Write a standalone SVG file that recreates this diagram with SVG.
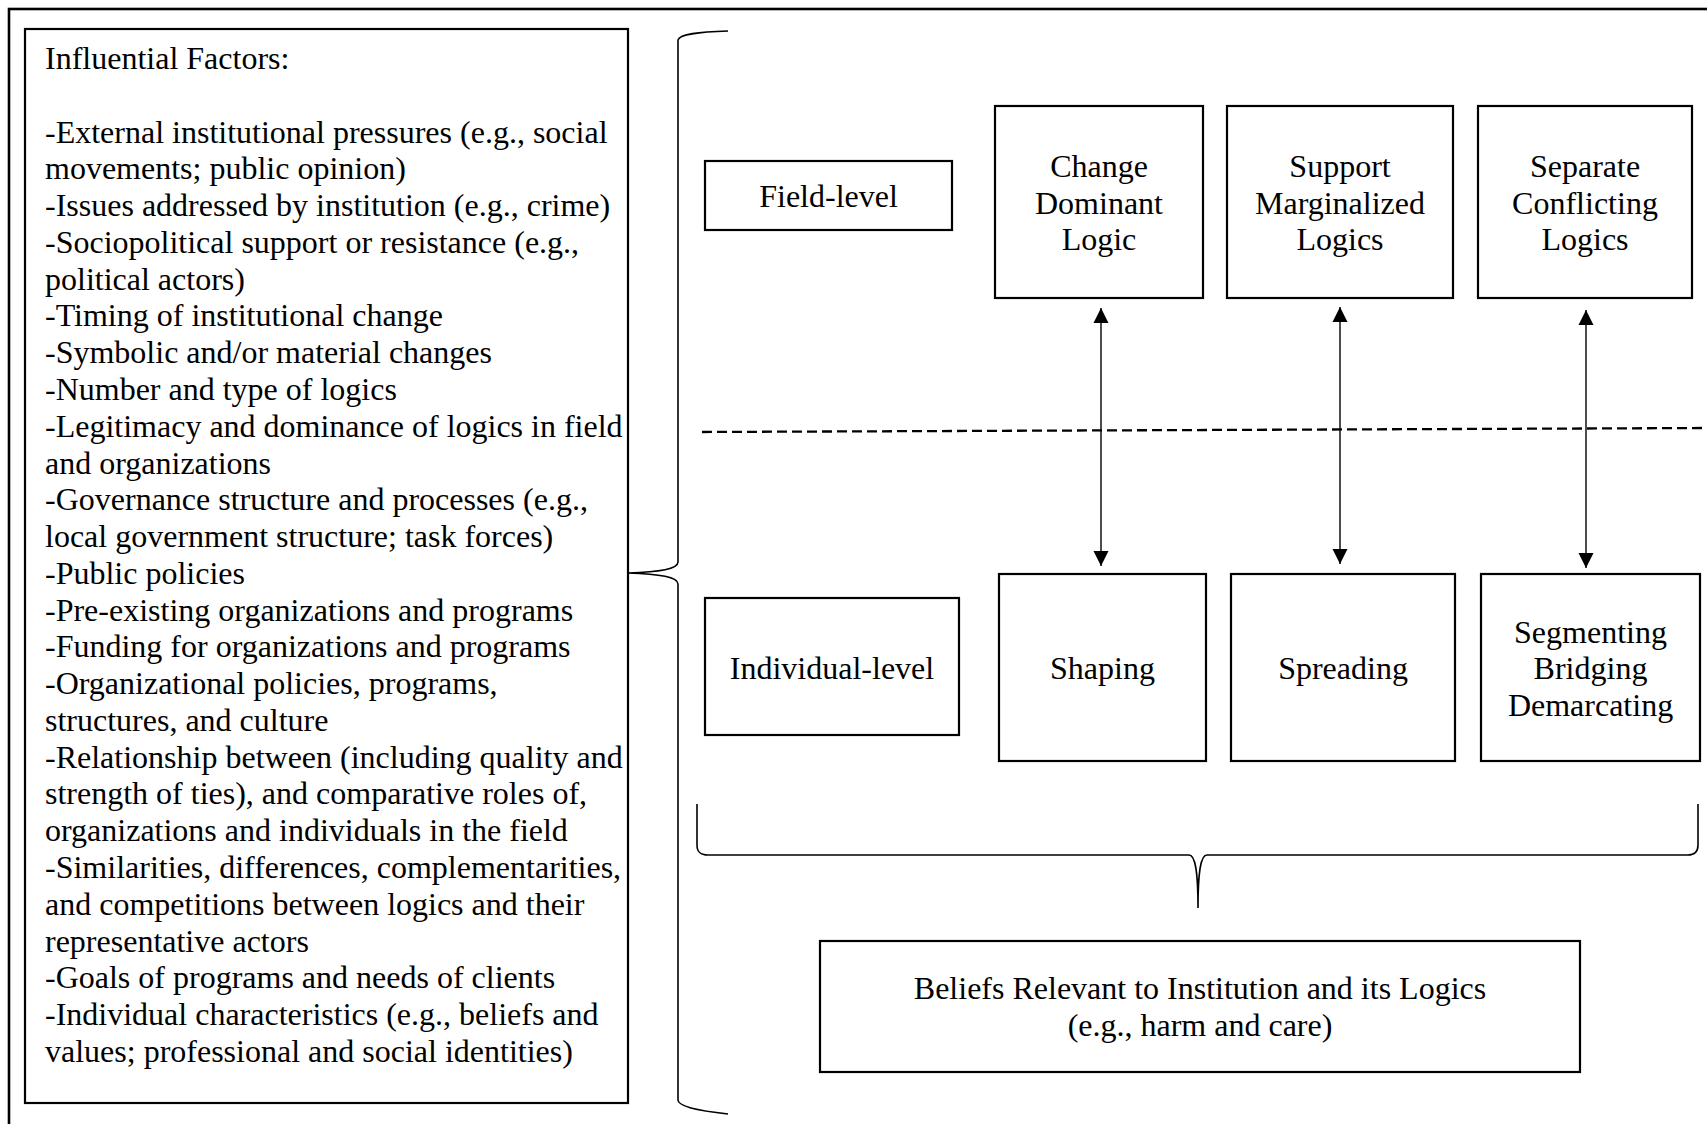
<svg xmlns="http://www.w3.org/2000/svg" width="1707" height="1124" viewBox="0 0 1707 1124">
<style>
  text { font-family: "Liberation Serif", "Times New Roman", serif; font-size: 32px; fill: #000; }
  .c { text-anchor: middle; }
  .box { fill: #fff; stroke: #000; stroke-width: 2.2; }
  .brace { fill: none; stroke: #000; stroke-width: 1.6; }
  .arrow { stroke: #000; stroke-width: 1.4; marker-start: url(#ah); marker-end: url(#ah); }
</style>
<defs>
  <marker id="ah" markerUnits="userSpaceOnUse" markerWidth="16" markerHeight="16" viewBox="0 0 16 16" refX="15" refY="8" orient="auto-start-reverse">
    <path d="M0,0.5 L15,8 L0,15.5 Z" fill="#000"/>
  </marker>
</defs>
<rect width="1707" height="1124" fill="#fff"/>
<rect id="frame" x="9" y="9" width="1710" height="1130" fill="none" stroke="#000" stroke-width="2.6"/>

<g id="factors">
  <rect class="box" x="25" y="29" width="603" height="1074"/>
  <text x="45" y="69">Influential Factors:</text>
  <text x="45" y="142.5">-External institutional pressures (e.g., social</text>
  <text x="45" y="179.3">movements; public opinion)</text>
  <text x="45" y="216.1">-Issues addressed by institution (e.g., crime)</text>
  <text x="45" y="252.9">-Sociopolitical support or resistance (e.g.,</text>
  <text x="45" y="289.6">political actors)</text>
  <text x="45" y="326.4">-Timing of institutional change</text>
  <text x="45" y="363.2">-Symbolic and/or material changes</text>
  <text x="45" y="400.0">-Number and type of logics</text>
  <text x="45" y="436.7">-Legitimacy and dominance of logics in field</text>
  <text x="45" y="473.5">and organizations</text>
  <text x="45" y="510.3">-Governance structure and processes (e.g.,</text>
  <text x="45" y="547.0">local government structure; task forces)</text>
  <text x="45" y="583.8">-Public policies</text>
  <text x="45" y="620.6">-Pre-existing organizations and programs</text>
  <text x="45" y="657.4">-Funding for organizations and programs</text>
  <text x="45" y="694.1">-Organizational policies, programs,</text>
  <text x="45" y="730.9">structures, and culture</text>
  <text x="45" y="767.7">-Relationship between (including quality and</text>
  <text x="45" y="804.4">strength of ties), and comparative roles of,</text>
  <text x="45" y="841.2">organizations and individuals in the field</text>
  <text x="45" y="878.0">-Similarities, differences, complementarities,</text>
  <text x="45" y="914.8">and competitions between logics and  their</text>
  <text x="45" y="951.5">representative actors</text>
  <text x="45" y="988.3">-Goals of programs and needs of clients</text>
  <text x="45" y="1025.1">-Individual characteristics (e.g., beliefs and</text>
  <text x="45" y="1061.8">values; professional and social identities)</text>
</g>

<g id="field-level">
  <rect class="box" x="705" y="161" width="247" height="69"/>
  <text class="c" x="828.5" y="207">Field-level</text>
</g>
<g id="change-dominant">
  <rect class="box" x="995" y="106" width="208" height="192"/>
  <text class="c" x="1099" y="177">Change</text>
  <text class="c" x="1099" y="213.5">Dominant</text>
  <text class="c" x="1099" y="250">Logic</text>
</g>
<g id="support-marginalized">
  <rect class="box" x="1227" y="106" width="226" height="192"/>
  <text class="c" x="1340" y="177">Support</text>
  <text class="c" x="1340" y="213.5">Marginalized</text>
  <text class="c" x="1340" y="250">Logics</text>
</g>
<g id="separate-conflicting">
  <rect class="box" x="1478" y="106" width="214" height="192"/>
  <text class="c" x="1585" y="177">Separate</text>
  <text class="c" x="1585" y="213.5">Conflicting</text>
  <text class="c" x="1585" y="250">Logics</text>
</g>

<g id="individual-level">
  <rect class="box" x="705" y="598" width="254" height="137"/>
  <text class="c" x="832" y="678.5">Individual-level</text>
</g>
<g id="shaping">
  <rect class="box" x="999" y="574" width="207" height="187"/>
  <text class="c" x="1102.5" y="678.5">Shaping</text>
</g>
<g id="spreading">
  <rect class="box" x="1231" y="574" width="224" height="187"/>
  <text class="c" x="1343" y="678.5">Spreading</text>
</g>
<g id="segmenting">
  <rect class="box" x="1481" y="574" width="219" height="187"/>
  <text class="c" x="1590.5" y="642.5">Segmenting</text>
  <text class="c" x="1590.5" y="679">Bridging</text>
  <text class="c" x="1590.5" y="715.5">Demarcating</text>
</g>

<g id="beliefs">
  <rect class="box" x="820" y="941" width="760" height="131"/>
  <text class="c" x="1200" y="998.5">Beliefs Relevant to Institution and its Logics</text>
  <text class="c" x="1200" y="1035.5">(e.g., harm and care)</text>
</g>

<g id="connectors">
  <line x1="702" y1="432" x2="1707" y2="428" stroke="#000" stroke-width="2.3" stroke-dasharray="10 5"/>
  <line class="arrow" x1="1101" y1="308" x2="1101" y2="566"/>
  <line class="arrow" x1="1340" y1="307" x2="1340" y2="564"/>
  <line class="arrow" x1="1586" y1="310" x2="1586" y2="568"/>
  <path class="brace" d="M728,31 C698,32 680,34 678,40 L678,562 C678,569 660,572 628,573 C660,574 678,577 678,584 L678,1100 C678,1107 700,1111 728,1114"/>
  <path class="brace" d="M697,804 L697,845 C697,852 700,855 708,855 L1189,855 C1195,855 1198,870 1198,908 C1198,870 1201,855 1207,855 L1688,855 C1695,855 1698,852 1698,845 L1698,804"/>
</g>
</svg>
